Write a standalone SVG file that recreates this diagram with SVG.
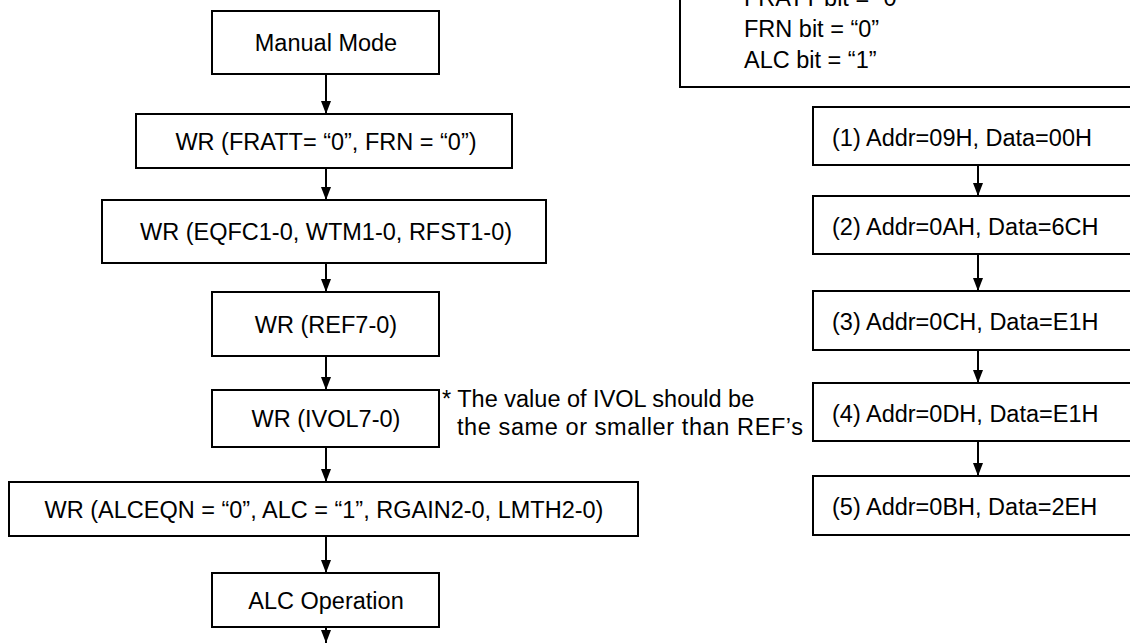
<svg xmlns="http://www.w3.org/2000/svg" width="1130" height="643" viewBox="0 0 1130 643">
<style>
.box{fill:#fff;stroke:#000;stroke-width:2}
.t{font-family:"Liberation Sans",Arial,sans-serif;font-size:23.5px;fill:#000}
.c{text-anchor:middle}
.con{stroke:#000;stroke-width:2;fill:none;marker-end:url(#ah)}
</style>
<defs>
<marker id="ah" markerUnits="userSpaceOnUse" markerWidth="13" markerHeight="10" refX="13" refY="5" orient="auto" viewBox="0 0 13 10">
<path d="M0,0 L13,5 L0,10 Z" fill="#000"/>
</marker>
</defs>
<rect width="1130" height="643" fill="#fff"/>
<g id="connectors">
<line class="con" x1="326" y1="74" x2="326" y2="114"/>
<line class="con" x1="326" y1="168" x2="326" y2="200"/>
<line class="con" x1="326" y1="263" x2="326" y2="292"/>
<line class="con" x1="326" y1="356" x2="326" y2="390"/>
<line class="con" x1="326" y1="447" x2="326" y2="482"/>
<line class="con" x1="326" y1="536" x2="326" y2="573"/>
<line class="con" x1="326" y1="627" x2="326" y2="643"/>
<line class="con" x1="978" y1="165" x2="978" y2="196"/>
<line class="con" x1="978" y1="254" x2="978" y2="291"/>
<line class="con" x1="978" y1="350" x2="978" y2="383"/>
<line class="con" x1="978" y1="441" x2="978" y2="476"/>
</g>
<g id="settings">
<rect class="box" x="680" y="-50" width="500" height="137"/>
<text class="t" x="744" y="6">FRATT bit = “0”</text>
<text class="t" x="744" y="37">FRN bit = “0”</text>
<text class="t" x="744" y="68">ALC bit = “1”</text>
</g>
<g id="manual">
<rect class="box" x="212" y="11" width="227" height="63"/>
<text class="t c" x="326" y="51">Manual Mode</text>
</g>
<g id="wr-fratt">
<rect class="box" x="136" y="114" width="376" height="54"/>
<text class="t c" x="326" y="149.5">WR (FRATT= “0”, FRN = “0”)</text>
</g>
<g id="wr-eqfc">
<rect class="box" x="102" y="200" width="444" height="63"/>
<text class="t c" x="326" y="240">WR (EQFC1-0, WTM1-0, RFST1-0)</text>
</g>
<g id="wr-ref">
<rect class="box" x="212" y="292" width="227" height="64"/>
<text class="t c" x="326" y="332.5">WR (REF7-0)</text>
</g>
<g id="wr-ivol">
<rect class="box" x="212" y="390" width="227" height="57"/>
<text class="t c" x="326" y="427">WR (IVOL7-0)</text>
</g>
<g id="note">
<text class="t" x="442" y="407">* The value of IVOL should be</text>
<text class="t" x="457" y="435" textLength="346" lengthAdjust="spacing">the same or smaller than REF’s</text>
</g>
<g id="wr-alc">
<rect class="box" x="9" y="482" width="629" height="54"/>
<text class="t c" x="324" y="517.5">WR (ALCEQN = “0”, ALC = “1”, RGAIN2-0, LMTH2-0)</text>
</g>
<g id="alc-op">
<rect class="box" x="212" y="573" width="227" height="54"/>
<text class="t c" x="326" y="608.5">ALC Operation</text>
</g>
<g id="step1">
<rect class="box" x="813" y="107" width="340" height="58"/>
<text class="t" x="832" y="145.5">(1) Addr=09H, Data=00H</text>
</g>
<g id="step2">
<rect class="box" x="813" y="196" width="340" height="58"/>
<text class="t" x="832" y="234.5">(2) Addr=0AH, Data=6CH</text>
</g>
<g id="step3">
<rect class="box" x="813" y="291" width="340" height="59"/>
<text class="t" x="832" y="330">(3) Addr=0CH, Data=E1H</text>
</g>
<g id="step4">
<rect class="box" x="813" y="383" width="340" height="58"/>
<text class="t" x="832" y="421.5">(4) Addr=0DH, Data=E1H</text>
</g>
<g id="step5">
<rect class="box" x="813" y="476" width="340" height="59"/>
<text class="t" x="832" y="515">(5) Addr=0BH, Data=2EH</text>
</g>
</svg>
